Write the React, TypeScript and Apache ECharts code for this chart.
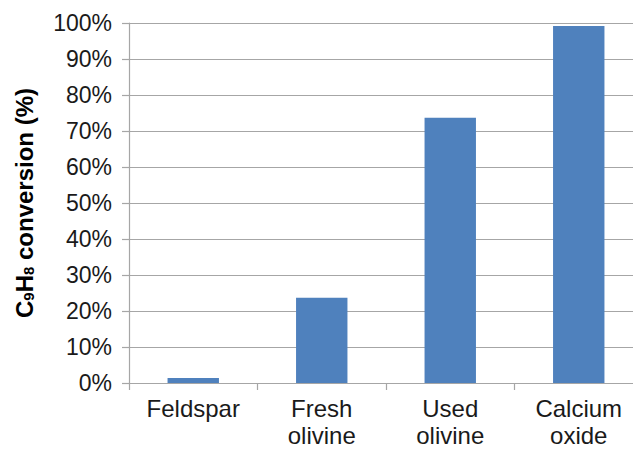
import React, { useEffect, useRef } from "react";
import * as echarts from "echarts";

const categories = ["Feldspar", "Fresh\nolivine", "Used\nolivine", "Calcium\noxide"];
const conversion = [1.4, 23.7, 73.7, 99.2];
const yTicks = [0, 10, 20, 30, 40, 50, 60, 70, 80, 90, 100];

const FONT = "Liberation Sans, Arial, sans-serif";

export default function App() {
  const ref = useRef<HTMLDivElement>(null);
  useEffect(() => {
    document.body.style.margin = "0";
    const chart = echarts.init(ref.current!, null, { renderer: "svg" });
    chart.setOption({
      animation: false,
      backgroundColor: "#ffffff",
      grid: { left: 129, top: 23, bottom: 63, right: 17 },
      xAxis: {
        type: "category",
        data: categories,
        axisLine: { lineStyle: { color: "#a6a6a6", width: 1.2 } },
        axisTick: { show: true, length: 7, lineStyle: { color: "#a6a6a6", width: 1.2 } },
        axisLabel: {
          color: "#1a1a1a",
          fontSize: 24,
          fontFamily: FONT,
          margin: 12,
          lineHeight: 27,
          interval: 0,
        },
      },
      yAxis: {
        type: "value",
        min: yTicks[0],
        max: yTicks[yTicks.length - 1],
        interval: 10,
        name: "{b|C}{s|9}{b|H}{s|8}{b| conversion (%)}",
        nameLocation: "middle",
        nameRotate: 90,
        nameGap: 93,
        nameTextStyle: {
          rich: {
            b: { fontSize: 24, fontWeight: "bold", color: "#000", fontFamily: FONT, verticalAlign: "bottom", lineHeight: 30 },
            s: { fontSize: 15, fontWeight: "bold", color: "#000", fontFamily: FONT, verticalAlign: "bottom", lineHeight: 15 },
          },
        },
        axisLine: { show: true, lineStyle: { color: "#a6a6a6", width: 1.2 } },
        axisTick: { show: true, length: 7, lineStyle: { color: "#a6a6a6", width: 1.2 } },
        splitLine: { show: true, lineStyle: { color: "#a6a6a6", width: 1.2 } },
        axisLabel: {
          color: "#1a1a1a",
          fontSize: 23,
          fontFamily: FONT,
          margin: 17,
          formatter: (v: number) => v + "%",
        },
      },
      series: [
        {
          type: "bar",
          data: conversion,
          barCategoryGap: "60%",
          itemStyle: { color: "#4f81bd" },
        },
      ],
    });
    return () => chart.dispose();
  }, []);
  return (
    <div
      ref={ref}
      style={{ position: "fixed", left: 0, top: 0, width: 660, height: 449 }}
    />
  );
}
